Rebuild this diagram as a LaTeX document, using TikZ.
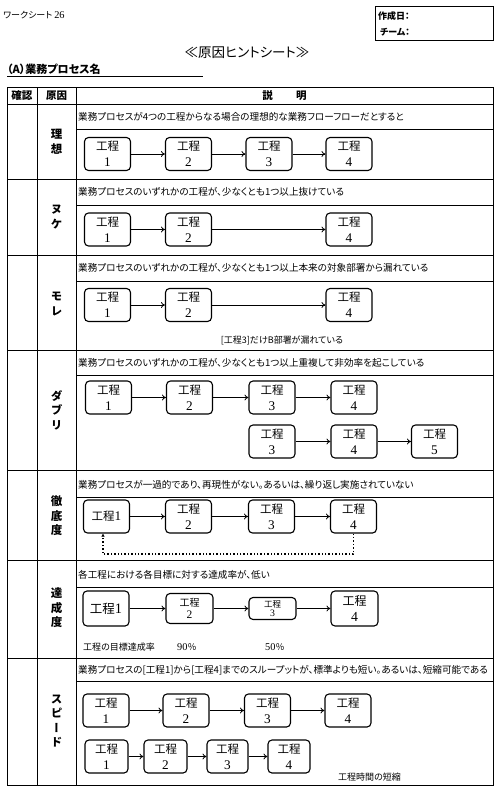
\documentclass[tikz,border=0pt]{standalone}
\usepackage{fontspec}
\setmainfont{Noto Sans CJK JP}[RawFeature={+palt}]
\newfontfamily\serifnum{Liberation Serif}[Scale=1.15]
\newfontfamily\vertjp{Noto Sans CJK JP}[RawFeature={+vert}]
\usetikzlibrary{arrows.meta}
\tikzset{
  proc/.style={draw, line width=1.1pt, rounded corners=4pt, minimum width=46pt, minimum height=33pt,
    inner sep=0pt, align=center, font=\fontsize{11.5}{16}\selectfont},
  flow/.style={-{To[length=4pt,width=6pt]}, line width=0.8pt},
  desc/.style={anchor=west, inner sep=0pt, font=\fontsize{9.6}{11}\selectfont},
  lbl/.style={align=center, inner sep=0pt, font=\vertjp\fontsize{11.5}{14.5}\selectfont\bfseries},
  hdr/.style={inner sep=0pt, font=\fontsize{10.5}{12}\selectfont\bfseries},
  tline/.style={line width=0.8pt},
  note/.style={inner sep=0pt, font=\fontsize{9}{11}\selectfont}
}
\newcommand{\kt}[1]{工程\\{\serifnum #1}}
\begin{document}
\begin{tikzpicture}[x=1pt,y=-1pt]
\useasboundingbox (0,0) rectangle (500,798);
% header
\node[anchor=west, inner sep=0pt, font=\fontsize{9}{11}\selectfont] (ws) at (3,15) {ワークシート {\serifnum 26}};
\draw[line width=0.9pt] (375,6) rectangle (493,40);
\node[anchor=west, inner sep=0pt, font=\fontsize{9}{11}\selectfont\bfseries] (sd) at (378,16) {作成日：};
\node[anchor=west, inner sep=0pt, font=\fontsize{9}{11}\selectfont\bfseries] (tm) at (380,32) {チーム：};
\node[inner sep=0pt, font=\fontsize{13.5}{15}\selectfont] (title) at (247,53) {≪原因ヒントシート≫};
\node[anchor=west, inner sep=0pt, font=\fontsize{11}{13}\selectfont\bfseries] (pa) at (7,69) {（A）業務プロセス名};
\draw[line width=1pt] (7,76) -- (203,76);
% table
\draw[line width=1pt] (7,87) rectangle (493,785);
\draw[tline] (37,87) -- (37,785) (76,87) -- (76,785);
\foreach \y in {104,179,255,350,470,560,658} \draw[tline] (7,\y) -- (493,\y);
\foreach \y in {129,205,281,375,497,587,681} \draw[tline] (76,\y) -- (493,\y);
\node[hdr] (h1) at (22,96) {確認};
\node[hdr] (h2) at (56.5,96) {原因};
\node[hdr] (h3) at (284.5,96) {説\hspace{2.2em}明};
% labels
\node[lbl] (l1) at (56.5,141.5) {理\\想};
\node[lbl] (l2) at (56.5,217) {ヌ\\ケ};
\node[lbl] (l3) at (56.5,304) {モ\\レ};
\node[lbl] (l4) at (56.5,410) {ダ\\ブ\\リ};
\node[lbl] (l5) at (56.5,516) {徹\\底\\度};
\node[lbl] (l6) at (56.5,608) {達\\成\\度};
\node[lbl] (l7) at (56.5,721) {ス\\ピ\\ー\\ド};
% descriptions
\node[desc] (d1) at (78,117) {業務プロセスが4つの工程からなる場合の理想的な業務フローフローだとすると};
\node[desc] (d2) at (78,192) {業務プロセスのいずれかの工程が、少なくとも1つ以上抜けている};
\node[desc] (d3) at (78,268) {業務プロセスのいずれかの工程が、少なくとも1つ以上本来の対象部署から漏れている};
\node[desc] (d4) at (78,363) {業務プロセスのいずれかの工程が、少なくとも1つ以上重複して非効率を起こしている};
\node[desc] (d5) at (78,485) {業務プロセスが一過的であり、再現性がない。あるいは、繰り返し実施されていない};
\node[desc] (d6) at (78,575) {各工程における各目標に対する達成率が、低い};
\node[desc] (d7) at (78,670) {業務プロセスの[工程1]から[工程4]までのスループットが、標準よりも短い。あるいは、短縮可能である};
% row 1 理想
\node[proc] (r1a) at (107.5,154) {\kt{1}};
\node[proc] (r1b) at (188.5,154) {\kt{2}};
\node[proc] (r1c) at (269,154) {\kt{3}};
\node[proc] (r1d) at (349,154) {\kt{4}};
\draw[flow] (r1a) -- (r1b);
\draw[flow] (r1b) -- (r1c);
\draw[flow] (r1c) -- (r1d);
% row 2 ヌケ
\node[proc] (r2a) at (107.5,229.5) {\kt{1}};
\node[proc] (r2b) at (188.5,229.5) {\kt{2}};
\node[proc] (r2d) at (349,229.5) {\kt{4}};
\draw[flow] (r2a) -- (r2b);
\draw[flow] (r2b) -- (r2d);
% row 3 モレ
\node[proc] (r3a) at (107.5,305) {\kt{1}};
\node[proc] (r3b) at (188.5,305) {\kt{2}};
\node[proc] (r3d) at (349,305) {\kt{4}};
\draw[flow] (r3a) -- (r3b);
\draw[flow] (r3b) -- (r3d);
\node[note] (n3) at (282,340) {[工程3]だけB部署が漏れている};
% row 4 ダブリ
\node[proc] (r4a) at (108.5,397.5) {\kt{1}};
\node[proc] (r4b) at (189.5,397.5) {\kt{2}};
\node[proc] (r4c) at (272,397.5) {\kt{3}};
\node[proc] (r4d) at (354,397.5) {\kt{4}};
\draw[flow] (r4a) -- (r4b);
\draw[flow] (r4b) -- (r4c);
\draw[flow] (r4c) -- (r4d);
\node[proc] (r4e) at (272,441.5) {\kt{3}};
\node[proc] (r4f) at (354,441.5) {\kt{4}};
\node[proc] (r4g) at (434.5,441.5) {\kt{5}};
\draw[flow] (r4e) -- (r4f);
\draw[flow] (r4f) -- (r4g);
% row 5 徹底度
\node[proc] (r5a) at (106.5,516.5) {工程{\serifnum 1}};
\node[proc] (r5b) at (188.5,516.5) {\kt{2}};
\node[proc] (r5c) at (271.5,516.5) {\kt{3}};
\node[proc] (r5d) at (353.5,516.5) {\kt{4}};
\draw[flow] (r5a) -- (r5b);
\draw[flow] (r5b) -- (r5c);
\draw[flow] (r5c) -- (r5d);
\coordinate (dl) at (103,554);
\coordinate (dt) at (dl |- r5a.south);
\draw[dotted, line width=1.4pt, -{Latex[length=3pt,width=3.5pt]}] (r5d.south) |- (dl) -- (dt);
% row 6 達成度
\node[proc, minimum height=35pt, font=\fontsize{12.5}{15}\selectfont] (r6a) at (106,608.5) {工程{\serifnum 1}};
\node[proc, minimum width=47pt, minimum height=30pt, font=\fontsize{10}{12.5}\selectfont] (r6b) at (189.5,608.5) {\kt{2}};
\node[proc, minimum width=47pt, minimum height=22pt, font=\fontsize{8.5}{9.5}\selectfont] (r6c) at (272.5,608.5) {\kt{3}};
\node[proc, minimum width=47pt, minimum height=35pt, font=\fontsize{12}{16}\selectfont] (r6d) at (354.5,608.5) {\kt{4}};
\draw[flow] (r6a) -- (r6b);
\draw[flow] (r6b) -- (r6c);
\draw[flow] (r6c) -- (r6d);
\node[note, anchor=west] (n6a) at (83,647) {工程の目標達成率};
\node[note, anchor=west] (n6b) at (177,647) {{\serifnum 90}％};
\node[note, anchor=west] (n6c) at (265,647) {{\serifnum 50}％};
% row 7 スピード
\node[proc] (r7a) at (106,710.5) {\kt{1}};
\node[proc] (r7b) at (186,710.5) {\kt{2}};
\node[proc] (r7c) at (267.5,710.5) {\kt{3}};
\node[proc] (r7d) at (348,710.5) {\kt{4}};
\draw[flow] (r7a) -- (r7b);
\draw[flow] (r7b) -- (r7c);
\draw[flow] (r7c) -- (r7d);
\node[proc, minimum width=43pt] (r7e) at (106.5,756.5) {\kt{1}};
\node[proc, minimum width=43pt] (r7f) at (165.5,756.5) {\kt{2}};
\node[proc, minimum width=41pt] (r7g) at (227.5,756.5) {\kt{3}};
\node[proc, minimum width=42pt] (r7h) at (289,756.5) {\kt{4}};
\draw[flow] (r7e) -- (r7f);
\draw[flow] (r7f) -- (r7g);
\draw[flow] (r7g) -- (r7h);
\node[note, anchor=west] (n7) at (338,777) {工程時間の短縮};
\end{tikzpicture}
\end{document}
